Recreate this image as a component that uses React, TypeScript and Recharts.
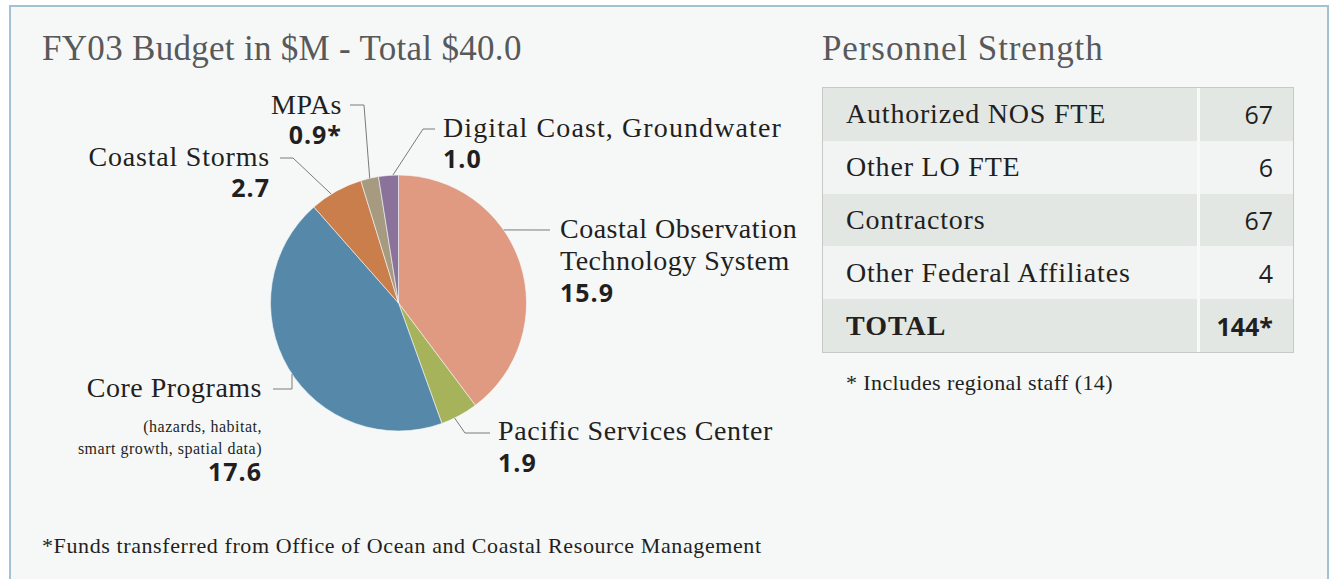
import { Cell, Pie, PieChart } from "recharts";

const categories = [
  "Coastal Observation\nTechnology System",
  "Pacific Services Center",
  "Core Programs",
  "Coastal Storms",
  "MPAs",
  "Digital Coast, Groundwater",
];
const budget = [15.9, 1.9, 17.6, 2.7, 0.9, 1.0];
const valueMarks = ["", "", "", "", "*", ""];
const categoryNotes = ["", "", "(hazards, habitat,\nsmart growth, spatial data)", "", "", ""];

const personnelLabels = ["Authorized NOS FTE", "Other LO FTE", "Contractors", "Other Federal Affiliates"];
const personnelCounts = [67, 6, 67, 4];

const SLICE_COLORS = ["#e09a82", "#a6b35b", "#5588a9", "#c97e4b", "#a69b81", "#8b729a"];
const SERIF = "'Liberation Serif', serif";
const SANS = "'Open Sans', sans-serif";
const INK = "#231f20";
const LEADER = "#7a7a7a";
const RADIAN = Math.PI / 180;

const CHART_W = 1335;
const CHART_H = 579;
const PIE_CX = 398.5;
const PIE_CY = 303;
const PIE_R = 128;

type Anchor = "start" | "end";
interface LabelLayout {
  angle: number;
  path: [number, number][];
  x: number;
  y: number;
  anchor: Anchor;
  lineGap: number;
  spacing: number;
  noteY?: number;
  valueY: number;
}

// leader-line anchor angle on the rim, elbow points and text position per slice
const LABEL_LAYOUT: LabelLayout[] = [
  { angle: 34.8, path: [[550, 230]], x: 560, y: 238, anchor: "start", lineGap: 32, spacing: 0.5, valueY: 302 },
  { angle: -64, path: [[465, 433], [490, 433]], x: 498, y: 440, anchor: "start", lineGap: 32, spacing: 0.6, valueY: 472 },
  { angle: 213.7, path: [[292, 389], [273, 389]], x: 262, y: 397, anchor: "end", lineGap: 32, spacing: 0.5, noteY: 432, valueY: 481 },
  { angle: 121.7, path: [[293, 158], [280, 158]], x: 270, y: 166, anchor: "end", lineGap: 32, spacing: 0.8, valueY: 197 },
  { angle: 103, path: [[364, 105], [350, 105]], x: 342, y: 114, anchor: "end", lineGap: 32, spacing: 0.5, valueY: 144 },
  { angle: 92.5, path: [[423, 129], [435, 129]], x: 443, y: 137, anchor: "start", lineGap: 32, spacing: 1.1, valueY: 168 },
];

const pieData = categories.map((name, i) => ({ name, value: budget[i] }));

function SliceLabel(props: any) {
  const { cx, cy, outerRadius, index } = props;
  const layout = LABEL_LAYOUT[index];
  const ex = cx + outerRadius * Math.cos(layout.angle * RADIAN);
  const ey = cy - outerRadius * Math.sin(layout.angle * RADIAN);
  const points = [[ex, ey], ...layout.path].map((p) => p.join(",")).join(" ");
  const nameLines = categories[index].split("\n");
  const noteLines = categoryNotes[index] ? categoryNotes[index].split("\n") : [];

  return (
    <g>
      <polyline points={points} fill="none" stroke={LEADER} strokeWidth={1} />
      {nameLines.map((line, i) => (
        <text
          key={"n" + i}
          x={layout.x}
          y={layout.y + i * layout.lineGap}
          textAnchor={layout.anchor}
          fontFamily={SERIF}
          fontSize={28}
          letterSpacing={layout.spacing}
          fill={INK}
        >
          {line}
        </text>
      ))}
      {noteLines.map((line, i) => (
        <text
          key={"c" + i}
          x={layout.x}
          y={(layout.noteY ?? 0) + i * 22}
          textAnchor={layout.anchor}
          fontFamily={SERIF}
          fontSize={16}
          letterSpacing={0.5}
          fill={INK}
        >
          {line}
        </text>
      ))}
      <text
        x={layout.x}
        y={layout.valueY}
        textAnchor={layout.anchor}
        fontFamily={SANS}
        fontWeight={700}
        fontSize={25}
        letterSpacing={1}
        fill={INK}
      >
        {budget[index].toFixed(1) + valueMarks[index]}
      </text>
    </g>
  );
}

const ROW_H = 52.8;

export default function App() {
  const total = personnelCounts.reduce((a, b) => a + b, 0);
  const rows = [
    ...personnelLabels.map((label, i) => ({ label, value: String(personnelCounts[i]), bold: false })),
    { label: "TOTAL", value: total + "*", bold: true },
  ];

  const headingStyle = {
    position: "absolute" as const,
    top: 31,
    fontFamily: SERIF,
    fontSize: 35,
    letterSpacing: 0.3,
    lineHeight: 1,
    color: "#58595b",
    whiteSpace: "nowrap" as const,
  };

  return (
    <div style={{ position: "absolute", left: 0, top: 0, width: CHART_W, height: CHART_H, background: "#ffffff", overflow: "hidden" }}>
      <div
        style={{
          position: "absolute",
          left: 9,
          top: 5,
          width: 1320,
          height: 600,
          background: "#f6f8f8",
          border: "2px solid #a3c1d3",
          boxSizing: "border-box",
        }}
      />
      <div style={{ ...headingStyle, left: 42 }}>FY03 Budget in $M - Total $40.0</div>
      <div style={{ ...headingStyle, left: 822, letterSpacing: 0.9 }}>Personnel Strength</div>

      <div style={{ position: "absolute", left: 0, top: 0 }}>
        <PieChart width={CHART_W} height={CHART_H} margin={{ top: 0, right: 0, bottom: 0, left: 0 }}>
          <Pie
            data={pieData}
            dataKey="value"
            nameKey="name"
            cx={PIE_CX}
            cy={PIE_CY}
            outerRadius={PIE_R}
            startAngle={90}
            endAngle={-270}
            stroke="#f6f8f8"
            strokeWidth={0.6}
            label={SliceLabel}
            labelLine={false}
            isAnimationActive={false}
          >
            {pieData.map((_, i) => (
              <Cell key={i} fill={SLICE_COLORS[i]} />
            ))}
          </Pie>
        </PieChart>
      </div>

      <div
        style={{
          position: "absolute",
          left: 822,
          top: 87,
          width: 472,
          border: "1px solid #c5cac7",
          boxSizing: "border-box",
          background: "#f8faf9",
        }}
      >
        {rows.map((row, i) => (
          <div key={row.label} style={{ display: "flex", height: ROW_H, background: i % 2 === 0 ? "#e2e7e4" : "#f1f4f3" }}>
            <div
              style={{
                width: 377,
                flex: "0 0 377px",
                boxSizing: "border-box",
                borderRight: "3px solid #f8faf9",
                display: "flex",
                alignItems: "center",
                paddingLeft: 23,
                fontFamily: SERIF,
                fontSize: 28,
                letterSpacing: row.bold ? 1 : 0.8,
                fontWeight: row.bold ? 700 : 400,
                color: INK,
                whiteSpace: "nowrap",
              }}
            >
              {row.label}
            </div>
            <div
              style={{
                flex: 1,
                display: "flex",
                alignItems: "center",
                justifyContent: "flex-end",
                paddingRight: 20,
                fontFamily: SANS,
                fontSize: 25,
                fontWeight: row.bold ? 700 : 400,
                color: INK,
              }}
            >
              {row.value}
            </div>
          </div>
        ))}
      </div>

      <div
        style={{
          position: "absolute",
          left: 846,
          top: 371.5,
          fontFamily: SERIF,
          fontSize: 22,
          letterSpacing: 0.4,
          lineHeight: 1,
          color: INK,
          whiteSpace: "nowrap",
        }}
      >
        * Includes regional staff (14)
      </div>
      <div
        style={{
          position: "absolute",
          left: 42,
          top: 535,
          fontFamily: SERIF,
          fontSize: 22,
          letterSpacing: 0.6,
          lineHeight: 1,
          color: INK,
          whiteSpace: "nowrap",
        }}
      >
        *Funds transferred from Office of Ocean and Coastal Resource Management
      </div>
    </div>
  );
}
